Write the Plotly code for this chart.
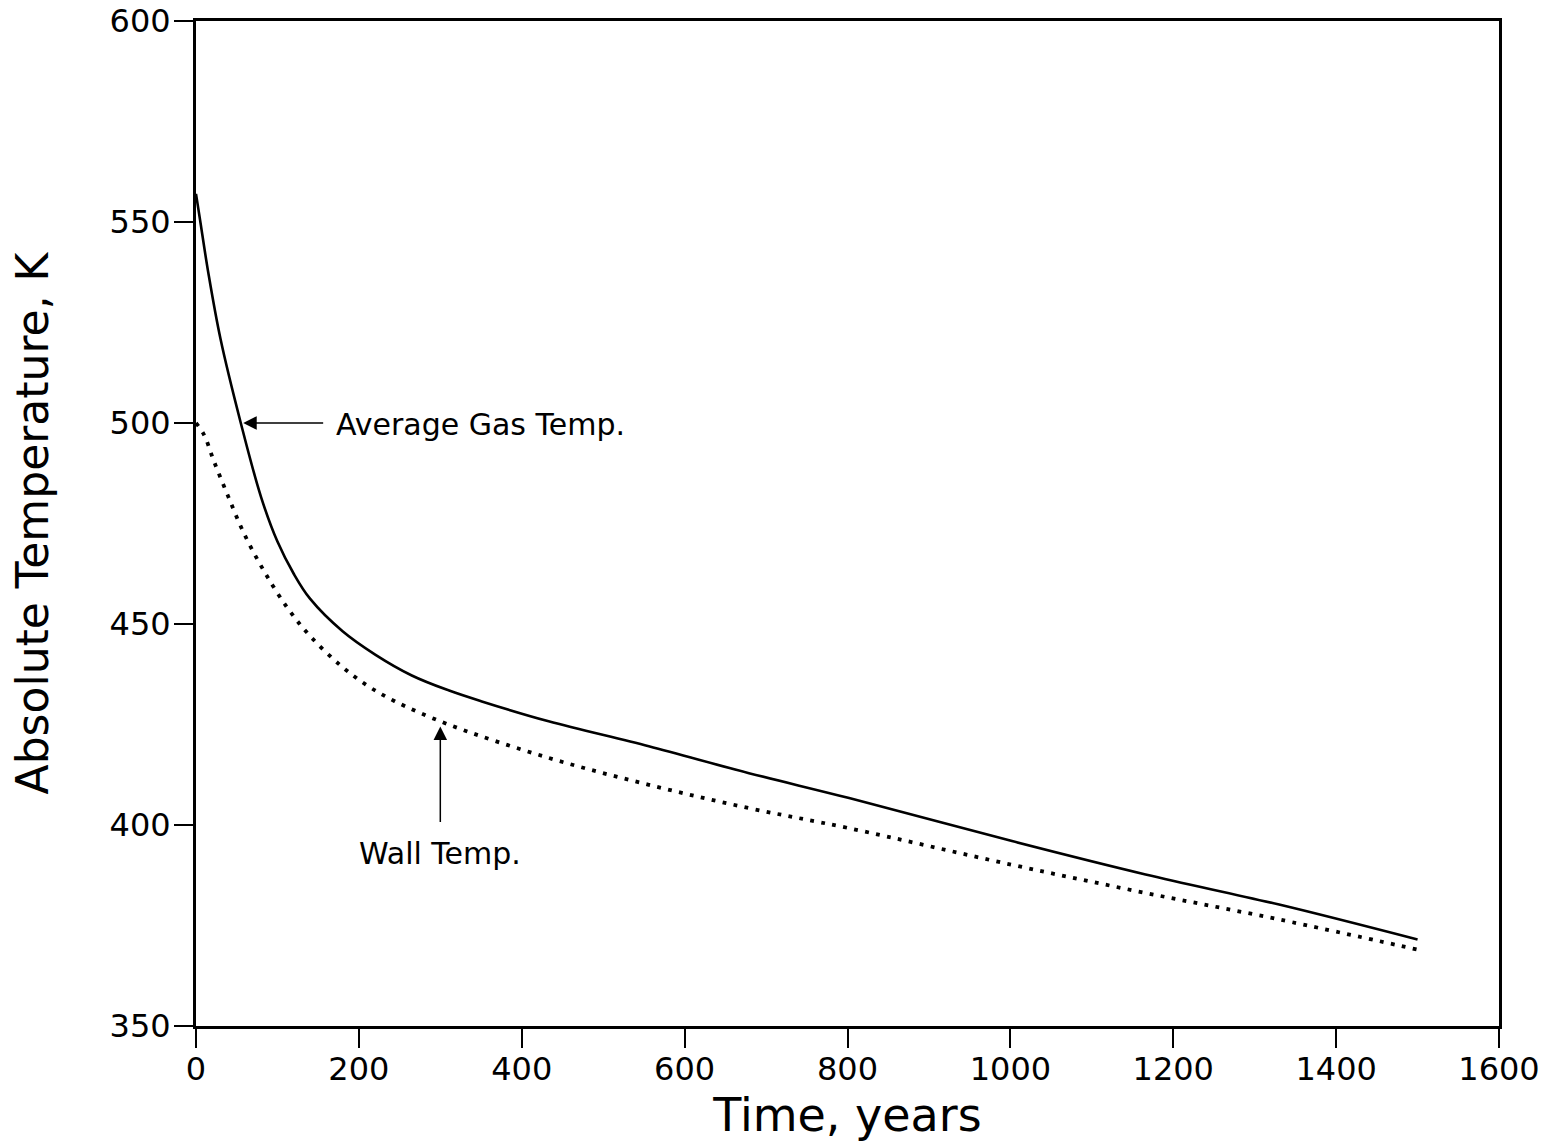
import plotly.graph_objects as go

# ---- data ----
gas_years = [0, 5, 15, 30, 55, 80, 100, 120, 140, 180, 220, 265, 310, 350,
             433, 556, 679, 802, 1002, 1166, 1330, 1500]
gas_temp_k = [557, 550.5, 537.5, 521, 500, 481.5, 470.5, 462.5, 456.3, 448.2,
              442.4, 437.2, 433.5, 430.8, 425.8, 419.6, 412.9, 406.7, 396.0,
              387.7, 380.2, 371.5]

wall_years = [0, 10, 22, 39, 59, 84, 113, 141, 178, 211, 244, 310, 433, 556,
              679, 802, 1002, 1166, 1330, 1500]
wall_temp_k = [500, 497.0, 490.5, 482, 472.5, 463, 453.8, 446.8, 439.6, 434.6,
               430.8, 425, 416.7, 410, 404.2, 399.2, 390.1, 383.1, 376.5, 369]

x_ticks = [0, 200, 400, 600, 800, 1000, 1200, 1400, 1600]
y_ticks = [350, 400, 450, 500, 550, 600]

FONT = "DejaVu Sans"

fig = go.Figure()
fig.add_trace(go.Scatter(
    x=gas_years, y=gas_temp_k, mode="lines", name="Average Gas Temp.",
    line=dict(color="black", width=2.6, shape="spline", smoothing=1.0),
    showlegend=False, hoverinfo="skip"))
fig.add_trace(go.Scatter(
    x=wall_years, y=wall_temp_k, mode="lines", name="Wall Temp.",
    line=dict(color="black", width=3.8, dash="3.8px,7.4px",
              shape="spline", smoothing=1.0),
    showlegend=False, hoverinfo="skip"))

# annotations
fig.add_annotation(x=58, y=500, ax=158, ay=500, axref="x", ayref="y",
                   xref="x", yref="y", text="", showarrow=True,
                   arrowhead=2, arrowsize=1.8, arrowwidth=1.5,
                   arrowcolor="black")
fig.add_annotation(x=170, y=499.6, xref="x", yref="y", text="Average Gas Temp.",
                   showarrow=False, xanchor="left", yanchor="middle",
                   font=dict(family=FONT, size=30, color="black"))
fig.add_annotation(x=300, y=424.5, ax=300, ay=400.4, axref="x", ayref="y",
                   xref="x", yref="y", text="", showarrow=True,
                   arrowhead=2, arrowsize=1.8, arrowwidth=1.5,
                   arrowcolor="black")
fig.add_annotation(x=300, y=392.8, xref="x", yref="y", text="Wall Temp.",
                   showarrow=False, xanchor="center", yanchor="middle",
                   font=dict(family=FONT, size=30, color="black"))

axis_common = dict(
    showline=True, linecolor="black", linewidth=3, mirror=True,
    ticks="outside", ticklen=19, tickwidth=2, tickcolor="black",
    showgrid=False, zeroline=False,
    tickfont=dict(family=FONT, size=32, color="black"),
)

fig.update_xaxes(range=[0, 1600], tickvals=x_ticks,
                 ticktext=[str(v) for v in x_ticks],
                 ticklabelstandoff=-6,
                 title=dict(text="Time, years", standoff=12,
                            font=dict(family=FONT, size=46, color="black")),
                 **axis_common)
fig.update_yaxes(range=[350, 600], tickvals=y_ticks,
                 ticktext=[str(v) for v in y_ticks],
                 ticklabelstandoff=-3,
                 title=dict(text="Absolute Temperature, K", standoff=48,
                            font=dict(family=FONT, size=44, color="black")),
                 **axis_common)

fig.update_layout(
    width=1552, height=1147, autosize=False,
    margin=dict(l=196, r=53, t=21, b=121, autoexpand=False),
    plot_bgcolor="white", paper_bgcolor="white",
    font=dict(family=FONT, color="black"),
)

fig.write_html("out.html", config={"displayModeBar": False})
